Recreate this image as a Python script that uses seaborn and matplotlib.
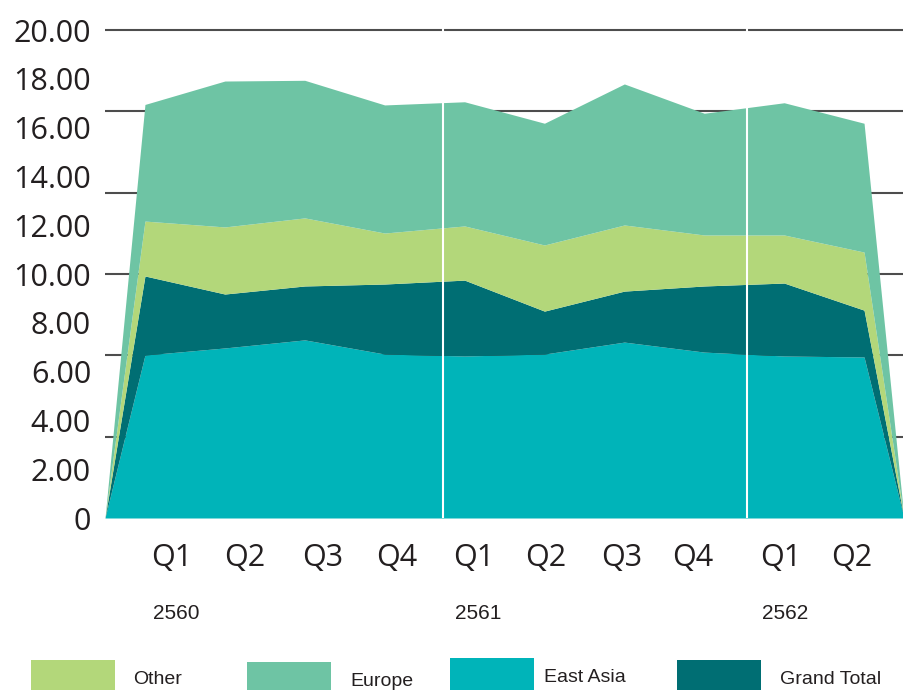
import numpy as np
import matplotlib
matplotlib.use("Agg")
import matplotlib.pyplot as plt
from matplotlib.patches import Rectangle
from matplotlib.ticker import FixedLocator
import seaborn as sns

# quarterly values (stack order: bottom -> top)
quarters = ["Q1", "Q2", "Q3", "Q4", "Q1", "Q2", "Q3", "Q4", "Q1", "Q2"]
years = ["2560", "2561", "2562"]
east_asia = [6.68, 6.97, 7.30, 6.72, 6.64, 6.72, 7.21, 6.80, 6.64, 6.60]
grand_total = [3.24, 2.21, 2.21, 2.87, 3.11, 1.76, 2.09, 2.71, 2.99, 1.92]
other = [2.25, 2.75, 2.79, 2.09, 2.22, 2.71, 2.71, 2.09, 1.97, 2.38]
europe = [4.78, 5.98, 5.64, 5.25, 5.09, 4.99, 5.78, 4.99, 5.42, 5.28]

c_other = "#b3d77a"
c_europe = "#6ec4a4"
c_east = "#00b4b9"
c_total = "#006e73"
text_c = "#231f20"

sns.set_theme(style="white")
plt.rcParams["font.family"] = ["Open Sans", "DejaVu Sans"]

fig = plt.figure(figsize=(9.04, 6.90), dpi=100)
ax = fig.add_axes([105 / 904, 172 / 690, 799 / 904, (518 - 27.6) / 690])

# chart starts and ends at zero half a step outside the quarters
n = len(quarters)
x = np.concatenate([[-0.5], np.arange(n), [n - 0.5]])
def pad(v):
    return np.concatenate([[0], v, [0]])

ax.stackplot(x, pad(east_asia), pad(grand_total), pad(other), pad(europe),
             colors=[c_east, c_total, c_other, c_europe], linewidth=0, zorder=2)

ax.set_xlim(-0.5, n - 0.5)
ax.set_ylim(0, 20.1)

# labels every 2, gridlines every 20/6
yt = np.arange(0, 21, 2)
ax.set_yticks(yt, ["0" if v == 0 else f"{v:.2f}" for v in yt])
ax.yaxis.set_minor_locator(FixedLocator(np.arange(1, 7) * 20 / 6))
ax.yaxis.remove_overlapping_locs = False
ax.grid(False)
ax.grid(which="minor", axis="y", color="#4d4d4d", linewidth=1.5, zorder=1)
ax.set_axisbelow(True)
ax.tick_params(axis="y", which="both", length=0, pad=10, labelsize=22,
               labelcolor=text_c)

q_pos = [0.34, 1.25, 2.22, 3.15, 4.12, 5.02, 5.97, 6.85, 7.96, 8.85]
ax.set_xticks(q_pos, quarters)
ax.tick_params(axis="x", length=0, pad=18, labelsize=22, labelcolor=text_c)

# year separators
for sx in [3.73, 7.535]:
    ax.axvline(sx, color="white", linewidth=1.5, zorder=3)

sns.despine(ax=ax, left=True, bottom=True)

for i, yr in enumerate(years):
    ax.text(q_pos[i * 4] + 0.05, -0.195, yr, transform=ax.get_xaxis_transform(),
            ha="center", va="center", fontsize=15, color=text_c,
            family="Liberation Sans")

# legend drawn as boxes along the bottom edge
leg_labels = ["Other", "Europe", "East Asia", "Grand Total"]
leg_colors = [c_other, c_europe, c_east, c_total]
box_x = [31, 247, 450, 677]
box_top = [660, 662, 658, 660]
txt_x = [133, 350, 544, 780]
txt_y = [680, 682, 677, 680]
for lab, col, bx, bt, tx, ty in zip(leg_labels, leg_colors, box_x, box_top, txt_x, txt_y):
    fig.add_artist(Rectangle((bx / 904, 0), 84 / 904, (690 - bt) / 690,
                             transform=fig.transFigure, facecolor=col,
                             edgecolor="none"))
    fig.text(tx / 904, 1 - ty / 690, lab, ha="left", va="center", fontsize=14,
             color=text_c, family="Liberation Sans")

fig.savefig("out.png", dpi=100)
